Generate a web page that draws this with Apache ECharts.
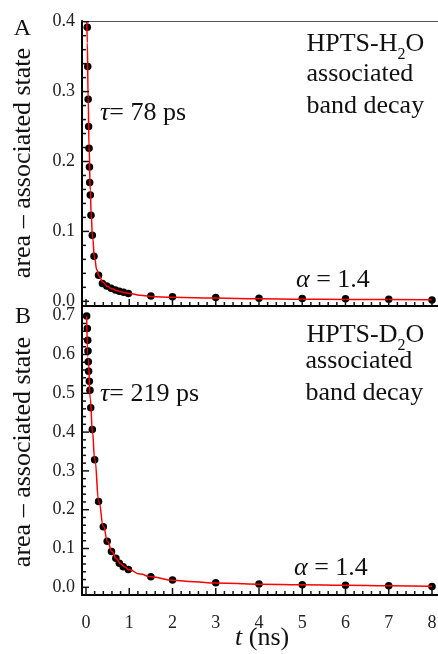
<!DOCTYPE html>
<html><head><meta charset="utf-8">
<script src="https://cdn.jsdelivr.net/npm/echarts@6/dist/echarts.min.js"></script>
<style>html,body{margin:0;padding:0;background:#fff}#c{width:438px;height:654px}</style>
</head><body><div id="c"></div>
<script>
// Panel A: HPTS-H2O measured points
const tA = [0.03,0.04,0.05,0.06,0.07,0.08,0.085,0.10,0.115,0.145,0.185,0.29,0.38,0.48,0.58,0.68,0.77,0.87,0.98,1.5,2,3,4,5,6,7,8];
const vA = [0.392,0.336,0.289,0.250,0.219,0.192,0.170,0.152,0.123,0.0946,0.0645,0.0372,0.0254,0.0219,0.0186,0.0162,0.0143,0.0129,0.011,0.0075,0.0065,0.0055,0.0045,0.004,0.0035,0.003,0.002];
// Panel A: fitted curve
const fitTA = [0.02,0.03,0.05,0.07,0.10,0.12,0.15,0.20,0.25,0.30,0.40,0.50,0.60,0.70,0.80,0.90,1.00,1.25,1.5,2,3,4,5,6,7,8];
const fitVA = [0.400,0.370,0.290,0.222,0.158,0.125,0.092,0.061,0.045,0.036,0.027,0.021,0.018,0.0155,0.0138,0.0124,0.0113,0.0088,0.0068,0.0058,0.0046,0.0037,0.0031,0.0027,0.0024,0.0022];
// Panel B: HPTS-D2O measured points
const tB = [0.015,0.03,0.04,0.046,0.053,0.06,0.077,0.092,0.11,0.146,0.2,0.29,0.4,0.49,0.59,0.69,0.77,0.86,0.98,1.5,2,3,4,5,6,7,8];
const vB = [0.699,0.667,0.637,0.609,0.581,0.557,0.531,0.508,0.463,0.407,0.329,0.221,0.156,0.119,0.092,0.075,0.062,0.053,0.046,0.027,0.019,0.012,0.0085,0.0067,0.005,0.004,0.002];
// Panel B: fitted curve
const fitTB = [0.015,0.05,0.10,0.15,0.20,0.30,0.40,0.50,0.60,0.70,0.80,0.90,1.00,1.25,1.5,2,2.5,3,4,5,6,7,8];
const fitVB = [0.700,0.590,0.485,0.400,0.330,0.220,0.158,0.118,0.092,0.074,0.061,0.052,0.045,0.034,0.027,0.018,0.014,0.011,0.008,0.0063,0.005,0.004,0.003];
// Tick labels
const xTicks = [0,1,2,3,4,5,6,7,8];
const yTicksA = [0,0.1,0.2,0.3,0.4];
const yTicksB = [0,0.1,0.2,0.3,0.4,0.5,0.6,0.7];

const FONT = '"Liberation Serif","Times New Roman",serif';
const zip = (a, b) => a.map((x, i) => [x, b[i]]);
function minors(majors, n) {
  const out = [];
  for (let i = 0; i < majors.length - 1; i++) {
    const a = majors[i], b = majors[i + 1];
    for (let k = 1; k < n; k++) out.push(+(a + (b - a) * k / n).toFixed(4));
  }
  return out;
}

// pixel mapping
const X0 = 86, XS = 43.25;          // t=0 at x=86
const A0 = 301.3, AS = 699;         // panel A: value 0 at y=301.3
const B0 = 587.3, BS = 388;         // panel B: value 0 at y=587.3
const LEFT = 82, RIGHT_T = 9;       // frame left edge; plot continues past the canvas edge
const A_TOP = 21, A_BOT = 306, B_TOP = 306, B_BOT = 595;

const xMin = -(X0 - LEFT) / XS;
const W = (RIGHT_T - xMin) * XS;
const aMin = -(A_BOT - A0) / AS, aMax = (A0 - A_TOP) / AS;
const bMin = -(B_BOT - B0) / BS, bMax = (B0 - B_TOP) / BS;

const TICK = '#111';
const TW = 1.5;
const dataX = (gi, top, labels) => ({type: 'value', gridIndex: gi, position: top ? 'top' : 'bottom', min: xMin, max: RIGHT_T,
  axisLine: {show: true, onZero: false, lineStyle: top ? {color: '#555', width: 1} : {color: '#000', width: 2}},
  axisTick: {show: false},
  axisLabel: {show: labels, customValues: xTicks, margin: 19, fontFamily: FONT, fontSize: 18, color: '#222'},
  splitLine: {show: false}});
const dataY = (gi, mn, mx, ticks) => ({type: 'value', gridIndex: gi, position: 'left', min: mn, max: mx,
  axisLine: {show: true, onZero: false, lineStyle: {color: '#000', width: 2}},
  axisTick: {show: false},
  axisLabel: {show: true, customValues: ticks, margin: 7, fontFamily: FONT, fontSize: 18, color: '#222',
    formatter: v => v.toFixed(1)},
  splitLine: {show: false}});

// tick marks placed through the axis scales (inward-pointing)
function xTickSeries(xi, yi, yEdge, vals, len) {
  return {type: 'scatter', xAxisIndex: xi, yAxisIndex: yi, data: vals.map(v => [v, yEdge]),
    symbol: 'rect', symbolSize: [TW, len], symbolOffset: [0, -len / 2], clip: false, silent: true,
    itemStyle: {color: TICK, opacity: 1}, z: 4};
}
function yTickSeries(xi, yi, vals, len) {
  return {type: 'scatter', xAxisIndex: xi, yAxisIndex: yi, data: vals.map(v => [xMin, v]),
    symbol: 'rect', symbolSize: [len, TW], symbolOffset: [len / 2, 0], clip: false, silent: true,
    itemStyle: {color: TICK, opacity: 1}, z: 4};
}

function txt(x, y, text, extra) {
  return {type: 'text', x: x, y: y, style: Object.assign({text: text, font: '26px ' + FONT, fill: '#111', align: 'left', verticalAlign: 'middle'}, extra || {})};
}
function rich(x, y, text) {
  return {type: 'text', x: x, y: y, style: {text: text, align: 'left', verticalAlign: 'middle', fill: '#111',
    font: '26px ' + FONT,
    rich: {
      n: {fontFamily: FONT, fontSize: 26, color: '#111', lineHeight: 30},
      i: {fontFamily: FONT, fontSize: 26, fontStyle: 'italic', color: '#111', lineHeight: 30},
      s: {fontFamily: FONT, fontSize: 16, color: '#111', lineHeight: 16, padding: [22, 0, 0, 0]}
    }}};
}

const option = {
  animation: false,
  backgroundColor: '#fff',
  grid: [
    {left: LEFT, top: A_TOP, width: W, height: A_BOT - A_TOP, outerBoundsMode: 'none'},
    {left: LEFT, top: B_TOP, width: W, height: B_BOT - B_TOP, outerBoundsMode: 'none'}
  ],
  xAxis: [
    dataX(0, false, false),  // 0 panel A bottom
    dataX(0, true, false),   // 1 panel A top frame line
    dataX(1, false, true)    // 2 panel B bottom with labels
  ],
  yAxis: [
    dataY(0, aMin, aMax, yTicksA),  // 0
    dataY(1, bMin, bMax, yTicksB)   // 1
  ],
  series: [
    xTickSeries(0, 0, aMin, xTicks, 7),
    xTickSeries(0, 0, aMin, minors(xTicks, 5), 4),
    yTickSeries(0, 0, yTicksA, 7),
    yTickSeries(0, 0, minors(yTicksA, 5), 4),
    xTickSeries(2, 1, bMin, xTicks, 7),
    xTickSeries(2, 1, bMin, minors(xTicks, 5), 4),
    yTickSeries(2, 1, yTicksB, 7),
    yTickSeries(2, 1, minors(yTicksB, 5), 4),
    {type: 'scatter', xAxisIndex: 0, yAxisIndex: 0, data: zip(tA, vA), symbolSize: 7.5,
      itemStyle: {color: '#000', opacity: 1}, z: 2},
    {type: 'line', xAxisIndex: 0, yAxisIndex: 0, data: zip(fitTA, fitVA), showSymbol: false,
      smooth: true, smoothMonotone: 'x', lineStyle: {color: '#ff0000', width: 1.5}, z: 3},
    {type: 'scatter', xAxisIndex: 2, yAxisIndex: 1, data: zip(tB, vB), symbolSize: 7.5,
      itemStyle: {color: '#000', opacity: 1}, z: 2},
    {type: 'line', xAxisIndex: 2, yAxisIndex: 1, data: zip(fitTB, fitVB), showSymbol: false,
      smooth: true, smoothMonotone: 'x', lineStyle: {color: '#ff0000', width: 1.5}, z: 3}
  ],
  graphic: [
    txt(22.5, 29, 'A', {align: 'center', font: '24px ' + FONT}),
    txt(23, 317, 'B', {align: 'center', font: '24px ' + FONT}),
    {type: 'text', x: 23, y: 163, rotation: Math.PI / 2,
      style: {text: 'area \u2013 associated state', font: '26px ' + FONT, fill: '#111', align: 'center', verticalAlign: 'middle'}},
    {type: 'text', x: 23, y: 452, rotation: Math.PI / 2,
      style: {text: 'area \u2013 associated state', font: '26px ' + FONT, fill: '#111', align: 'center', verticalAlign: 'middle'}},
    rich(100, 113, '{i|\u03c4}{n|= 78 ps}'),
    rich(100, 394, '{i|\u03c4}{n|= 219 ps}'),
    rich(306.5, 44, '{n|HPTS-H}{s|2}{n|O}'),
    txt(306.5, 74.5, 'associated'),
    txt(306.5, 106, 'band decay'),
    rich(306.5, 335, '{n|HPTS-D}{s|2}{n|O}'),
    txt(305.5, 361, 'associated'),
    txt(305.5, 393, 'band decay'),
    rich(296, 280, '{i|\u03b1}{n| = 1.4}'),
    rich(294, 568.5, '{i|\u03b1}{n| = 1.4}'),
    rich(235, 638, '{i|t}{n| (ns)}')
  ]
};
const chart = echarts.init(document.getElementById('c'), null, {renderer: 'canvas'});
chart.setOption(option);
</script>
</body></html>
